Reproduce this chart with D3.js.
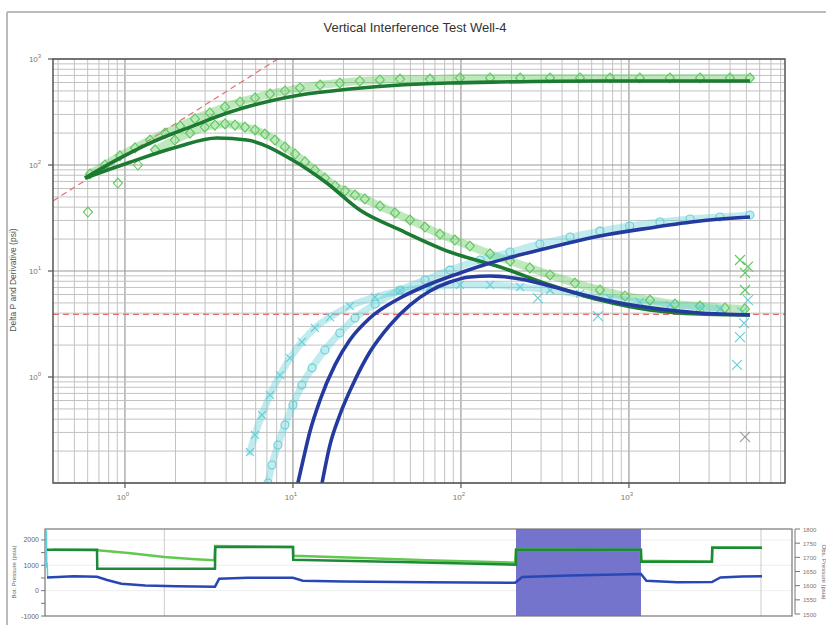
<!DOCTYPE html>
<html>
<head>
<meta charset="utf-8">
<script src="https://cdn.jsdelivr.net/npm/d3@7"></script>
<style>
body { margin: 0; background: #fff; }
svg { font-family: "Liberation Sans", Arial, sans-serif; }
</style>
</head>
<body>
<svg id="chart" width="826" height="625"></svg>
<script>
// ---- log-log diagnostic data: [elapsed time (hr), psi] ----
const greenDpModel = [[0.578,75.4],[0.933,116],[1.41,161],[2.44,228],[4.22,316],[7.30,402],[11.0,458],[21.8,521],[43.4,569],[86,594],[171,607],[671,620],[5250,620]];
const greenDerivModel = [[0.578,75.4],[1.03,104],[2.04,148],[3.53,180],[5.32,172],[10.0,111],[15.9,67.6],[25.0,37.6],[43.4,24.4],[86,15.1],[171,10.9],[339,7.38],[671,5.32],[1330,4.29],[2650,3.93],[5250,3.85]];
const greenDpData = [[0.619,82.3],[0.760,100],[0.933,122],[1.147,145],[1.41,172],[1.73,200],[2.13,233],[2.61,272],[3.20,310],[3.94,353],[4.84,393],[5.94,429],[7.30,468],[8.96,499],[11.0,533],[14.5,569],[19.0,594],[25.0,620],[32.9,634],[43.4,647],[65.4,647],[98.6,662],[149,662],[225,662],[339,662],[511,662],[771,662],[1160,662],[1750,662],[2650,662],[3990,662],[5250,662]];
const greenDerivEarly = [[0.602,36.0],[0.908,67.6],[1.195,100]];
const greenDerivData = [[1.51,139],[1.98,172],[2.44,200],[2.99,228],[3.43,238],[3.94,244],[4.52,238],[5.18,228],[5.94,214],[6.81,196],[7.81,172],[8.96,148],[10.3,127],[11.8,107],[13.5,89.7],[15.5,75.4],[17.8,63.4],[20.4,56.9],[23.4,52.1],[26.8,47.8],[33.0,41.0],[40.5,35.3],[49.7,30.3],[61.1,26.0],[75.0,22.3],[92.1,19.6],[113,17.2],[149,14.5],[196,12.4],[257,10.7],[339,9.17],[477,7.70],[672,6.62],[947,5.81],[1334,5.32],[1878,4.88],[2646,4.67],[3727,4.48],[4904,4.38]];
const greenScatterX = [[4580,12.7],[4904,9.58],[4904,6.62],[5110,11.0]];

const blueDpModel = [[10.7,0.100],[11.5,0.165],[12.6,0.303],[14.5,0.607],[17.8,1.30],[21.8,2.23],[28.7,3.60],[43.4,5.56],[65.4,7.54],[98.6,9.58],[149,11.9],[225,14.2],[389,17.6],[672,21.4],[1334,25.5],[2646,29.6],[5253,32.3]];
const blueDerivModel = [[14.9,0.100],[16.6,0.228],[19.0,0.438],[23.4,0.937],[28.7,1.72],[37.8,3.09],[49.7,4.77],[65.4,6.48],[86.0,7.87],[113,8.78],[149,8.97],[225,8.40],[339,7.22],[511,6.07],[884,4.99],[1530,4.38],[2646,4.02],[5253,3.85]];
const cyanDpData = [[7.10,0.100],[7.50,0.148],[8.14,0.228],[8.96,0.352],[10.0,0.544],[11.3,0.841],[13.0,1.22],[15.5,1.80],[19.0,2.60],[23.4,3.60],[30.8,4.88],[43.4,6.62],[61.1,8.22],[86.0,10.2],[130,12.7],[196,15.1],[295,18.0],[446,20.9],[672,23.8],[1010,26.6],[1530,29.0],[2310,30.9],[3480,32.3],[5253,33.7]];
const cyanDerivData = [[5.55,0.196],[5.94,0.284],[6.54,0.438],[7.30,0.676],[8.37,1.04],[9.60,1.51],[11.3,2.14],[13.5,2.90],[16.6,3.68],[21.8,4.67],[30.8,5.68],[43.4,6.48],[65.4,7.06],[98.6,7.38],[149,7.38],[225,7.06],[339,6.62],[511,6.07],[771,5.56],[1160,5.10],[1750,4.77],[2646,4.57],[3480,4.38]];
const cyanScatterX = [[287,5.56],[654,3.76],[4840,3.23],[4580,2.38],[4400,1.30],[5110,5.32],[4710,4.10]];
const grayScatterX = [[4904,0.272]];

const unitSlopeCoef = 123;      // wellbore storage line: dP = 123 * t
const radialLevel = 3.9;        // horizontal derivative line (psi)

const xTickExps = [0, 1, 2, 3];
const yTickExps = [0, 1, 2, 3];

// ---- pressure history data: [time (hr), psi] ----
const histDarkGreen = [[84,1608],[2179,1608],[2190,863],[7123,863],[7135,1725],[10391,1725],[10400,1216],[14900,1130],[19730,1020],[19740,1608],[24972,1608],[24985,1137],[27947,1137],[27960,1686],[30042,1686]];
const histLightGreen = [[335,1608],[2200,1590],[3500,1480],[5000,1330],[6300,1240],[7100,1200],[7130,1760],[10390,1720],[10400,1373],[13000,1300],[16000,1200],[19700,1100],[19740,1620],[24960,1600],[24980,1176],[27940,1140],[27960,1700],[30040,1690]];
const histBlue = [[84,520],[1200,570],[2179,549],[2600,420],[3200,270],[4200,200],[5500,170],[7123,157],[7300,470],[8500,510],[10391,510],[10800,390],[12500,360],[16000,330],[19700,310],[20000,540],[22000,600],[24972,660],[25200,390],[26500,330],[27947,340],[28300,520],[29200,560],[30042,570]];
const histCyan = [[60,2380],[75,900],[90,1100],[110,560]];
const shadeRange = [19735, 24972];
const histGridTimes = [5000, 30000];
const leftTicks = [-1000, -500, 0, 500, 1000, 1500, 2000];
const rightTicks = [1500, 1550, 1600, 1650, 1700, 1750, 1800];

const svg = d3.select('#chart');

// outer frame of the screenshot
svg.append('line').attr('x1', 7).attr('y1', 12).attr('x2', 826).attr('y2', 12)
    .attr('stroke', '#bbb').attr('stroke-width', 2);
svg.append('line').attr('x1', 7).attr('y1', 12).attr('x2', 7).attr('y2', 625)
    .attr('stroke', '#bbb').attr('stroke-width', 2);

svg.append('text').attr('x', 415).attr('y', 32).attr('text-anchor', 'middle')
    .attr('font-size', 13).attr('fill', '#333')
    .text('Vertical Interference Test Well-4');

// ---------- main log-log plot ----------
const M = {left: 53, right: 785, top: 59, bottom: 483};
const x = d3.scaleLog().domain([0.373, 8490]).range([M.left, M.right]);
const y = d3.scaleLog().domain([0.1, 1000]).range([M.bottom, M.top]);

svg.append('defs').append('clipPath').attr('id', 'clipMain')
    .append('rect').attr('x', M.left).attr('y', M.top)
    .attr('width', M.right - M.left).attr('height', M.bottom - M.top);

const grid = svg.append('g');
function logTicks(scale) {
    const [a, b] = scale.domain();
    const out = [];
    for (let e = Math.floor(Math.log10(a)); e <= Math.ceil(Math.log10(b)); e++) {
        for (let k = 1; k < 10; k++) {
            const v = k * Math.pow(10, e);
            if (v >= a && v <= b) out.push({v: v, major: k === 1});
        }
    }
    return out;
}
logTicks(x).forEach(t => {
    grid.append('line').attr('x1', x(t.v)).attr('x2', x(t.v))
        .attr('y1', M.top).attr('y2', M.bottom)
        .attr('stroke', t.major ? '#999' : '#c2c2c2').attr('stroke-width', t.major ? 1.2 : 1);
});
logTicks(y).forEach(t => {
    grid.append('line').attr('y1', y(t.v)).attr('y2', y(t.v))
        .attr('x1', M.left).attr('x2', M.right)
        .attr('stroke', t.major ? '#999' : '#c2c2c2').attr('stroke-width', t.major ? 1.2 : 1);
});

const plot = svg.append('g').attr('clip-path', 'url(#clipMain)');

// red dashed reference lines
plot.append('line')
    .attr('x1', x(0.373)).attr('y1', y(unitSlopeCoef * 0.373))
    .attr('x2', x(1000 / unitSlopeCoef)).attr('y2', y(1000))
    .attr('stroke', '#e07070').attr('stroke-width', 1.2).attr('stroke-dasharray', '6,4');
plot.append('line')
    .attr('x1', M.left).attr('x2', M.right)
    .attr('y1', y(radialLevel)).attr('y2', y(radialLevel))
    .attr('stroke', '#e07070').attr('stroke-width', 1.2).attr('stroke-dasharray', '6,4');

const line = d3.line().x(d => x(d[0])).y(d => y(d[1])).curve(d3.curveMonotoneX);

function band(data, color, w) {
    plot.append('path').datum(data).attr('d', line)
        .attr('fill', 'none').attr('stroke', color).attr('stroke-width', w)
        .attr('stroke-opacity', 0.4).attr('stroke-linecap', 'round');
}
function diamonds(data, color) {
    plot.selectAll(null).data(data).enter().append('path')
        .attr('d', 'M0,-5L4.5,0L0,5L-4.5,0Z')
        .attr('transform', d => `translate(${x(d[0])},${y(d[1])})`)
        .attr('fill', 'none').attr('stroke', color).attr('stroke-width', 1.1);
}
function circles(data, color) {
    plot.selectAll(null).data(data).enter().append('circle')
        .attr('cx', d => x(d[0])).attr('cy', d => y(d[1])).attr('r', 4)
        .attr('fill', 'none').attr('stroke', color).attr('stroke-width', 1.1);
}
function crosses(data, color, s) {
    plot.selectAll(null).data(data).enter().append('path')
        .attr('d', `M${-s},${-s}L${s},${s}M${-s},${s}L${s},${-s}`)
        .attr('transform', d => `translate(${x(d[0])},${y(d[1])})`)
        .attr('fill', 'none').attr('stroke', color).attr('stroke-width', 1.1);
}
function modelLine(data, color) {
    plot.append('path').datum(data).attr('d', line)
        .attr('fill', 'none').attr('stroke', color).attr('stroke-width', 3.6);
}

const lightGreen = '#5cc85a';
const cyan = '#62cfd6';

band(greenDpData, lightGreen, 8);
band(greenDerivData, lightGreen, 8);
band(cyanDpData, cyan, 7);
band(cyanDerivData, cyan, 7);
diamonds(greenDpData, lightGreen);
diamonds(greenDerivEarly, lightGreen);
diamonds(greenDerivData, lightGreen);
circles(cyanDpData, cyan);
crosses(cyanDerivData, cyan, 4);
crosses(cyanScatterX, cyan, 5);
crosses(greenScatterX, lightGreen, 5);
crosses(grayScatterX, '#999', 5);

modelLine(greenDpModel, '#1d7a33');
modelLine(greenDerivModel, '#1d7a33');
modelLine(blueDpModel, '#243a9e');
modelLine(blueDerivModel, '#243a9e');

// frame
svg.append('rect').attr('x', M.left).attr('y', M.top)
    .attr('width', M.right - M.left).attr('height', M.bottom - M.top)
    .attr('fill', 'none').attr('stroke', '#555').attr('stroke-width', 1.5);

function powLabel(sel, e) {
    sel.append('tspan').text('10');
    sel.append('tspan').attr('dy', -4).attr('font-size', 6).text(e);
}
xTickExps.forEach(e => {
    const px = x(Math.pow(10, e));
    svg.append('line').attr('x1', px).attr('x2', px).attr('y1', M.bottom).attr('y2', M.bottom + 5)
        .attr('stroke', '#555').attr('stroke-width', 1.2);
    const t = svg.append('text').attr('x', px - 2).attr('y', M.bottom + 17)
        .attr('text-anchor', 'middle').attr('font-size', 8).attr('fill', '#777');
    powLabel(t, e);
});
yTickExps.forEach(e => {
    const py = y(Math.pow(10, e));
    svg.append('line').attr('x1', M.left - 5).attr('x2', M.left).attr('y1', py).attr('y2', py)
        .attr('stroke', '#555').attr('stroke-width', 1.2);
    const t = svg.append('text').attr('x', M.left - 18).attr('y', py + 3)
        .attr('text-anchor', 'middle').attr('font-size', 8).attr('fill', '#777');
    powLabel(t, e);
});
svg.append('text').attr('transform', 'translate(16,280) rotate(-90)')
    .attr('text-anchor', 'middle').attr('font-size', 8.5).attr('fill', '#555')
    .text('Delta P and Derivative (psi)');

// ---------- pressure history panel ----------
const B = {left: 45, right: 792, top: 529, bottom: 616};
const bx = d3.scaleLinear().domain([0, 31300]).range([B.left, B.right]);
const by = d3.scaleLinear().domain([-1000, 2430]).range([B.bottom, B.top]);
const byR = d3.scaleLinear().domain([1500, 1800]).range([614, B.top]);

svg.append('defs').append('clipPath').attr('id', 'clipHist')
    .append('rect').attr('x', B.left).attr('y', B.top)
    .attr('width', B.right - B.left).attr('height', B.bottom - B.top);
const hist = svg.append('g').attr('clip-path', 'url(#clipHist)');

[0, 1000, 2000].forEach(v => {
    hist.append('line').attr('x1', B.left).attr('x2', B.right).attr('y1', by(v)).attr('y2', by(v))
        .attr('stroke', '#eee');
});
histGridTimes.forEach(t => {
    hist.append('line').attr('x1', bx(t)).attr('x2', bx(t)).attr('y1', B.top).attr('y2', B.bottom)
        .attr('stroke', '#ccc');
});
hist.append('rect').attr('x', bx(shadeRange[0])).attr('y', B.top)
    .attr('width', bx(shadeRange[1]) - bx(shadeRange[0])).attr('height', B.bottom - B.top)
    .attr('fill', '#7474cc');

const hline = d3.line().x(d => bx(d[0])).y(d => by(d[1]));
hist.append('path').datum(histCyan).attr('d', hline).attr('fill', 'none')
    .attr('stroke', '#5fd0e0').attr('stroke-width', 1.5);
hist.append('path').datum(histLightGreen).attr('d', hline).attr('fill', 'none')
    .attr('stroke', '#62c84e').attr('stroke-width', 2.5);
hist.append('path').datum(histDarkGreen).attr('d', hline).attr('fill', 'none')
    .attr('stroke', '#1d8a3a').attr('stroke-width', 2.5);
hist.append('path').datum(histBlue).attr('d', hline).attr('fill', 'none')
    .attr('stroke', '#2846b4').attr('stroke-width', 2.5);

svg.append('rect').attr('x', B.left).attr('y', B.top)
    .attr('width', B.right - B.left).attr('height', B.bottom - B.top)
    .attr('fill', 'none').attr('stroke', '#777').attr('stroke-width', 1.2);

leftTicks.forEach(v => {
    svg.append('line').attr('x1', B.left - 4).attr('x2', B.left).attr('y1', by(v)).attr('y2', by(v))
        .attr('stroke', '#777');
    if (v % 1000 === 0) {
        svg.append('text').attr('x', B.left - 6).attr('y', by(v) + 2.5).attr('text-anchor', 'end')
            .attr('font-size', 7).attr('fill', '#666').text(v);
    }
});
svg.append('text').attr('transform', 'translate(16,572) rotate(-90)')
    .attr('text-anchor', 'middle').attr('font-size', 6).attr('fill', '#666')
    .text('Bot. Pressure (psia)');

svg.append('line').attr('x1', 795).attr('x2', 795).attr('y1', byR(1800)).attr('y2', byR(1500))
    .attr('stroke', '#777');
rightTicks.forEach(v => {
    svg.append('line').attr('x1', 795).attr('x2', 800).attr('y1', byR(v)).attr('y2', byR(v))
        .attr('stroke', '#777');
    svg.append('text').attr('x', 803).attr('y', byR(v) + 2.5)
        .attr('font-size', 6).attr('fill', '#777').text(v);
});
svg.append('text').attr('transform', 'translate(822,572) rotate(90)')
    .attr('text-anchor', 'middle').attr('font-size', 6).attr('fill', '#666')
    .text('Obs. Pressure (psia)');
</script>
</body>
</html>
